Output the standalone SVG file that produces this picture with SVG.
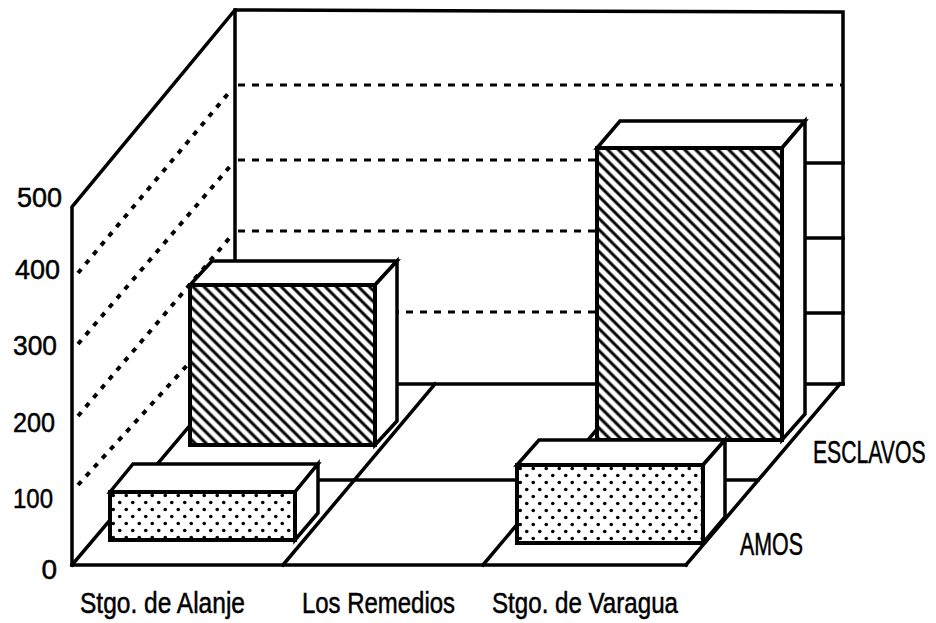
<svg xmlns="http://www.w3.org/2000/svg" width="936" height="623" viewBox="0 0 936 623">
<defs>
<pattern id="hatch" width="7.8" height="7.8" patternUnits="userSpaceOnUse" patternTransform="rotate(45)">
<rect width="7.8" height="7.8" fill="#fff"/>
<line x1="0" y1="3.9" x2="7.8" y2="3.9" stroke="#000" stroke-width="3"/>
</pattern>
<pattern id="dots" width="13" height="14" patternUnits="userSpaceOnUse" x="110" y="492">
<rect width="13" height="14" fill="#fff"/>
<circle cx="3.25" cy="3.5" r="1.8" fill="#000"/>
<circle cx="9.75" cy="10.5" r="1.8" fill="#000"/>
</pattern>
<pattern id="dots2" width="13" height="14" patternUnits="userSpaceOnUse" x="517" y="465">
<rect width="13" height="14" fill="#fff"/>
<circle cx="3.25" cy="3.5" r="1.8" fill="#000"/>
<circle cx="9.75" cy="10.5" r="1.8" fill="#000"/>
</pattern>
</defs>
<style>
.ln{fill:none;stroke:#000;stroke-width:3.5;stroke-linecap:square}
.grid{fill:none;stroke:#000;stroke-width:3;stroke-dasharray:7 7}
.dot{fill:none;stroke:#000;stroke-width:4;stroke-dasharray:5 7}
.face{fill:#fff;stroke:#000;stroke-width:3.5;stroke-linejoin:miter}
.hatch{fill:url(#hatch);stroke:#000;stroke-width:4}
.dots1{fill:url(#dots);stroke:#000;stroke-width:4}
.dots2{fill:url(#dots2);stroke:#000;stroke-width:4}
.t{font-family:"Liberation Sans",Arial,sans-serif;fill:#000;stroke:#000;stroke-width:0.5}
.num{font-size:28px;text-anchor:end}
.cat{font-size:29px}
.ser{font-size:31px}
</style>
<rect width="936" height="623" fill="#fff"/>
<g id="floor">
<line class="ln" x1="72" y1="565" x2="686" y2="565"/>
<line class="ln" x1="72" y1="565" x2="225" y2="384"/>
<line class="ln" x1="283" y1="565" x2="435" y2="384"/>
<line class="ln" x1="483" y1="565" x2="635" y2="384"/>
<line class="ln" x1="686" y1="565" x2="840" y2="384"/>
<line class="ln" x1="225" y1="384" x2="843" y2="384"/>
<line class="ln" x1="143" y1="480" x2="758" y2="480"/>
</g>
<g id="walls">
<polyline class="ln" points="72,565 72,207 235,10 843,12 843,384"/>
<line class="ln" x1="235" y1="10" x2="235" y2="384"/>
</g>
<g id="gridlines">
<line class="grid" x1="238" y1="85" x2="843" y2="85"/>
<line class="grid" x1="238" y1="160" x2="597" y2="160"/>
<line class="grid" x1="238" y1="231" x2="597" y2="231"/>
<line class="grid" x1="238" y1="312" x2="597" y2="312"/>
<line class="ln" x1="805" y1="163" x2="843" y2="163"/>
<line class="ln" x1="805" y1="238" x2="843" y2="238"/>
<line class="ln" x1="805" y1="313" x2="843" y2="313"/>
<line class="dot" x1="78" y1="273" x2="232" y2="89"/>
<line class="dot" x1="78" y1="344" x2="232" y2="164"/>
<line class="dot" x1="78" y1="416" x2="232" y2="235"/>
<line class="dot" x1="78" y1="485" x2="232" y2="316"/>
</g>
<g id="bar-alanje-esclavos">
<polygon class="face" points="190,285 212,261 397,261 375,285"/>
<polygon class="face" points="375,285 397,261 397,421 375,445"/>
<rect class="hatch" x="190" y="285" width="185" height="160"/>
</g>
<g id="bar-varagua-esclavos">
<polygon class="face" points="597,148 620,121 805,121 782,148"/>
<polygon class="face" points="782,148 805,121 805,414 782,440"/>
<rect class="hatch" x="597" y="148" width="185" height="292"/>
</g>
<g id="bar-alanje-amos">
<polygon class="face" points="110,492 133,464 318,464 295,492"/>
<polygon class="face" points="295,492 318,464 318,513 295,540"/>
<rect class="dots1" x="110" y="492" width="185" height="48"/>
</g>
<g id="bar-varagua-amos">
<polygon class="face" points="517,465 539,440 725,440 703,465"/>
<polygon class="face" points="703,465 725,440 725,517 703,543"/>
<rect class="dots2" x="517" y="465" width="186" height="78"/>
</g>
<g id="labels">
<text class="t num" x="62" y="207" textLength="45" lengthAdjust="spacingAndGlyphs">500</text>
<text class="t num" x="60" y="279" textLength="45" lengthAdjust="spacingAndGlyphs">400</text>
<text class="t num" x="57" y="355" textLength="44" lengthAdjust="spacingAndGlyphs">300</text>
<text class="t num" x="55" y="432" textLength="42" lengthAdjust="spacingAndGlyphs">200</text>
<text class="t num" x="53" y="508" textLength="40" lengthAdjust="spacingAndGlyphs">100</text>
<text class="t num" x="57" y="579">0</text>
<text class="t cat" x="80" y="613" textLength="165" lengthAdjust="spacingAndGlyphs">Stgo. de Alanje</text>
<text class="t cat" x="302" y="613" textLength="153" lengthAdjust="spacingAndGlyphs">Los Remedios</text>
<text class="t cat" x="492" y="613" textLength="186" lengthAdjust="spacingAndGlyphs">Stgo. de Varagua</text>
<text class="t ser" transform="translate(813,463) scale(0.683,1)" x="0" y="0">ESCLAVOS</text>
<text class="t ser" transform="translate(740,555) scale(0.69,1)" x="0" y="0">AMOS</text>
</g>
</svg>
